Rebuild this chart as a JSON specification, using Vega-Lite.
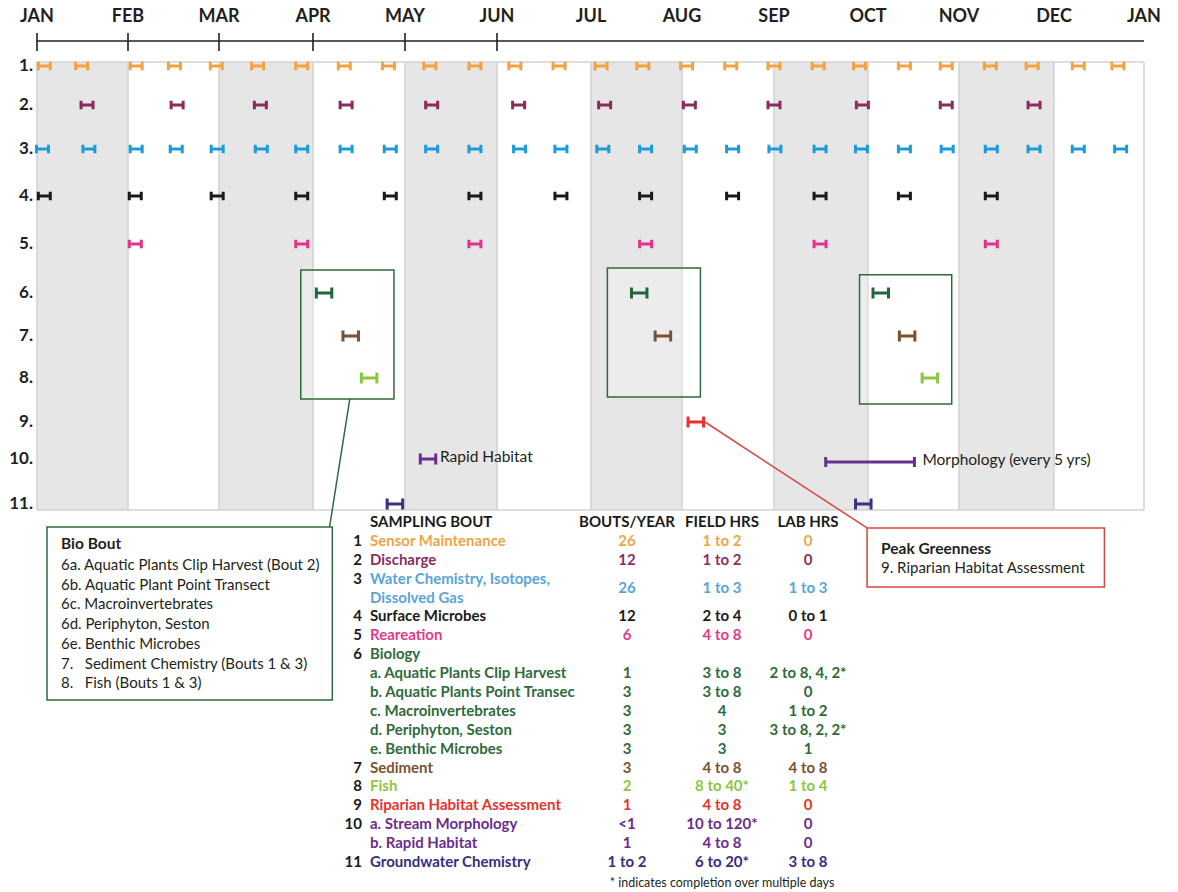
{
"$schema": "https://vega.github.io/schema/vega-lite/v6.json",
"width": 1178, "height": 892,
"autosize": {"type": "fit", "contains": "padding"},
"padding": 0,
"background": "white",
"config": {"view": {"stroke": null}},
"datasets": {
 "months": [{"m":0,"label":"JAN"},{"m":1,"label":"FEB"},{"m":2,"label":"MAR"},{"m":3,"label":"APR"},{"m":4,"label":"MAY"},{"m":5,"label":"JUN"},{"m":6,"label":"JUL"},{"m":7,"label":"AUG"},{"m":8,"label":"SEP"},{"m":9,"label":"OCT"},{"m":10,"label":"NOV"},{"m":11,"label":"DEC"},{"m":12,"label":"JAN"}],
 "bands": [{"start":0,"end":1},{"start":2,"end":3},{"start":4,"end":5},{"start":6,"end":7},{"start":8,"end":9},{"start":10,"end":11}],
 "rows": [{"row":1,"label":"1."},{"row":2,"label":"2."},{"row":3,"label":"3."},{"row":4,"label":"4."},{"row":5,"label":"5."},{"row":6,"label":"6."},{"row":7,"label":"7."},{"row":8,"label":"8."},{"row":9,"label":"9."},{"row":10,"label":"10."},{"row":11,"label":"11."}],
 "bouts": [
  {"row":1,"month":0.08},{"row":1,"month":0.49},{"row":1,"month":1.09},{"row":1,"month":1.51},{"row":1,"month":1.97},{"row":1,"month":2.41},{"row":1,"month":2.88},{"row":1,"month":3.34},{"row":1,"month":3.82},{"row":1,"month":4.27},{"row":1,"month":4.76},{"row":1,"month":5.19},{"row":1,"month":5.66},{"row":1,"month":6.11},{"row":1,"month":6.57},{"row":1,"month":7.05},{"row":1,"month":7.53},{"row":1,"month":8.0},{"row":1,"month":8.47},{"row":1,"month":8.91},{"row":1,"month":9.4},{"row":1,"month":9.86},{"row":1,"month":10.33},{"row":1,"month":10.77},{"row":1,"month":11.27},{"row":1,"month":11.71},
  {"row":2,"month":0.55},{"row":2,"month":1.54},{"row":2,"month":2.44},{"row":2,"month":3.36},{"row":2,"month":4.29},{"row":2,"month":5.23},{"row":2,"month":6.15},{"row":2,"month":7.08},{"row":2,"month":8.0},{"row":2,"month":8.94},{"row":2,"month":9.86},{"row":2,"month":10.79},
  {"row":3,"month":0.06},{"row":3,"month":0.57},{"row":3,"month":1.09},{"row":3,"month":1.53},{"row":3,"month":1.98},{"row":3,"month":2.45},{"row":3,"month":2.88},{"row":3,"month":3.36},{"row":3,"month":3.84},{"row":3,"month":4.29},{"row":3,"month":4.76},{"row":3,"month":5.24},{"row":3,"month":5.68},{"row":3,"month":6.13},{"row":3,"month":6.6},{"row":3,"month":7.09},{"row":3,"month":7.55},{"row":3,"month":8.01},{"row":3,"month":8.49},{"row":3,"month":8.93},{"row":3,"month":9.4},{"row":3,"month":9.87},{"row":3,"month":10.34},{"row":3,"month":10.79},{"row":3,"month":11.27},{"row":3,"month":11.74},
  {"row":4,"month":0.08},{"row":4,"month":1.08},{"row":4,"month":1.98},{"row":4,"month":2.88},{"row":4,"month":3.84},{"row":4,"month":4.76},{"row":4,"month":5.68},{"row":4,"month":6.6},{"row":4,"month":7.55},{"row":4,"month":8.49},{"row":4,"month":9.4},{"row":4,"month":10.34},
  {"row":5,"month":1.08},{"row":5,"month":2.88},{"row":5,"month":4.76},{"row":5,"month":6.6},{"row":5,"month":8.49},{"row":5,"month":10.34},
  {"row":6,"month":3.12},{"row":6,"month":6.53},{"row":6,"month":9.14},
  {"row":7,"month":3.41},{"row":7,"month":6.79},{"row":7,"month":9.43},
  {"row":8,"month":3.61},{"row":8,"month":9.68},
  {"row":9,"month":7.15},
  {"row":10,"month":4.25,"label":"Rapid Habitat"},
  {"row":11,"month":3.89},{"row":11,"month":8.95}
 ],
 "ranges": [{"row":10,"start":8.55,"end":9.51,"label":"Morphology (every 5 yrs)"}],
 "bioBouts": [{"bout":1,"start":2.87,"end":3.88,"top":5.53,"bottom":8.48},{"bout":2,"start":6.18,"end":7.2,"top":5.49,"bottom":8.43},{"bout":3,"start":8.91,"end":9.92,"top":5.63,"bottom":8.59}],
 "table": [
  {"line":0,"num":"","name":"SAMPLING BOUT","bouts":"BOUTS/YEAR","field":"FIELD HRS","lab":"LAB HRS","g":"h"},
  {"line":1,"num":"1","name":"Sensor Maintenance","bouts":"26","field":"1 to 2","lab":"0","g":"1"},
  {"line":2,"num":"2","name":"Discharge","bouts":"12","field":"1 to 2","lab":"0","g":"2"},
  {"line":3.5,"num":"3","name":"Water Chemistry, Isotopes,\nDissolved Gas","bouts":"26","field":"1 to 3","lab":"1 to 3","g":"3"},
  {"line":5,"num":"4","name":"Surface Microbes","bouts":"12","field":"2 to 4","lab":"0 to 1","g":"4"},
  {"line":6,"num":"5","name":"Reareation","bouts":"6","field":"4 to 8","lab":"0","g":"5"},
  {"line":7,"num":"6","name":"Biology","bouts":"","field":"","lab":"","g":"6"},
  {"line":8,"num":"","name":"a. Aquatic Plants Clip Harvest","bouts":"1","field":"3 to 8","lab":"2 to 8, 4, 2*","g":"6"},
  {"line":9,"num":"","name":"b. Aquatic Plants Point Transect","bouts":"3","field":"3 to 8","lab":"0","g":"6"},
  {"line":10,"num":"","name":"c. Macroinvertebrates","bouts":"3","field":"4","lab":"1 to 2","g":"6"},
  {"line":11,"num":"","name":"d. Periphyton, Seston","bouts":"3","field":"3","lab":"3 to 8, 2, 2*","g":"6"},
  {"line":12,"num":"","name":"e. Benthic Microbes","bouts":"3","field":"3","lab":"1","g":"6"},
  {"line":13,"num":"7","name":"Sediment","bouts":"3","field":"4 to 8","lab":"4 to 8","g":"7"},
  {"line":14,"num":"8","name":"Fish","bouts":"2","field":"8 to 40*","lab":"1 to 4","g":"8"},
  {"line":15,"num":"9","name":"Riparian Habitat Assessment","bouts":"1","field":"4 to 8","lab":"0","g":"9"},
  {"line":16,"num":"10","name":"a. Stream Morphology","bouts":"<1","field":"10 to 120*","lab":"0","g":"10"},
  {"line":17,"num":"","name":"b. Rapid Habitat","bouts":"1","field":"4 to 8","lab":"0","g":"10"},
  {"line":18,"num":"11","name":"Groundwater Chemistry","bouts":"1 to 2","field":"6 to 20*","lab":"3 to 8","g":"11"}
 ]
},
"resolve": {"scale": {"x": "independent", "y": "independent", "color": "independent"}},
"layer": [
 {
  "layer": [
   {"data": {"name": "bands"}, "mark": {"type": "rect", "fill": "#e6e6e6"},
    "encoding": {"x": {"field": "start", "type": "quantitative", "scale": {"type":"linear","domain":[0,1,2,3,4,5,6,7,8,9,10,11,12],"range":[37,128,219,313,405,497,591,682,774,868,959,1054,1144],"zero":false,"nice":false}, "axis": null}, "x2": {"field": "end"},
     "y": {"datum": 0.897, "type": "quantitative", "scale": {"type":"linear","domain":[1,2,3,4,5,6,7,8,9,10,11],"range":[66,105,149,196,244,293,336,378,422,459,504],"zero":false,"nice":false}, "axis": null}, "y2": {"datum": 11.133}}},
   {"data": {"name": "months"}, "mark": {"type": "rule", "stroke": "#d2d2d2", "strokeWidth": 1.5},
    "encoding": {"x": {"field": "m", "type": "quantitative", "scale": {"type":"linear","domain":[0,1,2,3,4,5,6,7,8,9,10,11,12],"range":[37,128,219,313,405,497,591,682,774,868,959,1054,1144],"zero":false,"nice":false}, "axis": null},
     "y": {"datum": 0.897, "type": "quantitative", "scale": {"type":"linear","domain":[1,2,3,4,5,6,7,8,9,10,11],"range":[66,105,149,196,244,293,336,378,422,459,504],"zero":false,"nice":false}, "axis": null}, "y2": {"datum": 11.133}}},
   {"data": {"values": [{"edge": "top"}]}, "mark": {"type": "rule", "stroke": "#d2d2d2", "strokeWidth": 1.5},
    "encoding": {"x": {"datum": 0, "type": "quantitative", "scale": {"type":"linear","domain":[0,1,2,3,4,5,6,7,8,9,10,11,12],"range":[37,128,219,313,405,497,591,682,774,868,959,1054,1144],"zero":false,"nice":false}, "axis": null}, "x2": {"datum": 12},
     "y": {"datum": 0.897, "type": "quantitative", "scale": {"type":"linear","domain":[1,2,3,4,5,6,7,8,9,10,11],"range":[66,105,149,196,244,293,336,378,422,459,504],"zero":false,"nice":false}, "axis": null}}},
   {"data": {"values": [{"edge": "bottom"}]}, "mark": {"type": "rule", "stroke": "#d2d2d2", "strokeWidth": 1.5},
    "encoding": {"x": {"datum": 0, "type": "quantitative", "scale": {"type":"linear","domain":[0,1,2,3,4,5,6,7,8,9,10,11,12],"range":[37,128,219,313,405,497,591,682,774,868,959,1054,1144],"zero":false,"nice":false}, "axis": null}, "x2": {"datum": 12},
     "y": {"datum": 11.133, "type": "quantitative", "scale": {"type":"linear","domain":[1,2,3,4,5,6,7,8,9,10,11],"range":[66,105,149,196,244,293,336,378,422,459,504],"zero":false,"nice":false}, "axis": null}}},
   {"data": {"values": [{"edge": "timeline"}]}, "mark": {"type": "rule", "stroke": "#231f20", "strokeWidth": 1.6},
    "encoding": {"x": {"datum": 0, "type": "quantitative", "scale": {"type":"linear","domain":[0,1,2,3,4,5,6,7,8,9,10,11,12],"range":[37,128,219,313,405,497,591,682,774,868,959,1054,1144],"zero":false,"nice":false}, "axis": null}, "x2": {"datum": 12},
     "y": {"datum": 0.359, "type": "quantitative", "scale": {"type":"linear","domain":[1,2,3,4,5,6,7,8,9,10,11],"range":[66,105,149,196,244,293,336,378,422,459,504],"zero":false,"nice":false}, "axis": null}}},
   {"data": {"name": "months"}, "transform": [{"filter": "datum.m <= 5"}], "mark": {"type": "rule", "stroke": "#231f20", "strokeWidth": 1.6},
    "encoding": {"x": {"field": "m", "type": "quantitative", "scale": {"type":"linear","domain":[0,1,2,3,4,5,6,7,8,9,10,11,12],"range":[37,128,219,313,405,497,591,682,774,868,959,1054,1144],"zero":false,"nice":false}, "axis": null},
     "y": {"datum": 0.154, "type": "quantitative", "scale": {"type":"linear","domain":[1,2,3,4,5,6,7,8,9,10,11],"range":[66,105,149,196,244,293,336,378,422,459,504],"zero":false,"nice":false}, "axis": null}, "y2": {"datum": 0.615}}},
   {"data": {"name": "months"}, "mark": {"type": "text", "font": "Lato", "fontWeight": "bold", "fontSize": 18, "color": "#231f20", "baseline": "middle", "align": "center"},
    "encoding": {"x": {"field": "m", "type": "quantitative", "scale": {"type":"linear","domain":[0,1,2,3,4,5,6,7,8,9,10,11,12],"range":[37,128,219,313,405,497,591,682,774,868,959,1054,1144],"zero":false,"nice":false}, "axis": null},
     "y": {"datum": -0.256, "type": "quantitative", "scale": {"type":"linear","domain":[1,2,3,4,5,6,7,8,9,10,11],"range":[66,105,149,196,244,293,336,378,422,459,504],"zero":false,"nice":false}, "axis": null}, "text": {"field": "label"}}},
   {"data": {"name": "rows"}, "mark": {"type": "text", "font": "Lato", "fontWeight": "bold", "fontSize": 17, "color": "#231f20", "baseline": "middle", "align": "right"},
    "encoding": {"x": {"datum": -0.044, "type": "quantitative", "scale": {"type":"linear","domain":[0,1,2,3,4,5,6,7,8,9,10,11,12],"range":[37,128,219,313,405,497,591,682,774,868,959,1054,1144],"zero":false,"nice":false}, "axis": null},
     "y": {"field": "row", "type": "quantitative", "scale": {"type":"linear","domain":[1,2,3,4,5,6,7,8,9,10,11],"range":[66,105,149,196,244,293,336,378,422,459,504],"zero":false,"nice":false}, "axis": null}, "text": {"field": "label"}}},
   {"data": {"name": "bioBouts"}, "mark": {"type": "rect", "fill": "white", "fillOpacity": 0.25, "stroke": "#2e6b3c", "strokeWidth": 1.5},
    "encoding": {"x": {"field": "start", "type": "quantitative", "scale": {"type":"linear","domain":[0,1,2,3,4,5,6,7,8,9,10,11,12],"range":[37,128,219,313,405,497,591,682,774,868,959,1054,1144],"zero":false,"nice":false}, "axis": null}, "x2": {"field": "end"},
     "y": {"field": "top", "type": "quantitative", "scale": {"type":"linear","domain":[1,2,3,4,5,6,7,8,9,10,11],"range":[66,105,149,196,244,293,336,378,422,459,504],"zero":false,"nice":false}, "axis": null}, "y2": {"field": "bottom"}}},
   {"data": {"name": "bouts"}, "transform": [{"filter": "datum.row <= 5"}],
    "mark": {"type": "point", "shape": "M-1,-0.7L-1,0.7M-1,0L1,0M1,-0.7L1,0.7", "filled": false, "strokeWidth": 3, "opacity": 1, "size": 144},
    "encoding": {"x": {"field": "month", "type": "quantitative", "scale": {"type":"linear","domain":[0,1,2,3,4,5,6,7,8,9,10,11,12],"range":[37,128,219,313,405,497,591,682,774,868,959,1054,1144],"zero":false,"nice":false}, "axis": null},
     "y": {"field": "row", "type": "quantitative", "scale": {"type":"linear","domain":[1,2,3,4,5,6,7,8,9,10,11],"range":[66,105,149,196,244,293,336,378,422,459,504],"zero":false,"nice":false}, "axis": null},
     "color": {"field": "row", "type": "nominal", "scale": {"domain": [1,2,3,4,5,6,7,8,9,10,11], "range": ["#f4a23e","#8c2b5a","#1b9bd7","#1a1a1a","#e0338a","#24643a","#7a5132","#8cc540","#e5322d","#6a2e8e","#3d2f82"]}, "legend": null}}},
   {"data": {"name": "bouts"}, "transform": [{"filter": "datum.row >= 6"}],
    "mark": {"type": "point", "shape": "M-1,-0.7L-1,0.7M-1,0L1,0M1,-0.7L1,0.7", "filled": false, "strokeWidth": 3, "opacity": 1, "size": 240},
    "encoding": {"x": {"field": "month", "type": "quantitative", "scale": {"type":"linear","domain":[0,1,2,3,4,5,6,7,8,9,10,11,12],"range":[37,128,219,313,405,497,591,682,774,868,959,1054,1144],"zero":false,"nice":false}, "axis": null},
     "y": {"field": "row", "type": "quantitative", "scale": {"type":"linear","domain":[1,2,3,4,5,6,7,8,9,10,11],"range":[66,105,149,196,244,293,336,378,422,459,504],"zero":false,"nice":false}, "axis": null},
     "color": {"field": "row", "type": "nominal", "scale": {"domain": [1,2,3,4,5,6,7,8,9,10,11], "range": ["#f4a23e","#8c2b5a","#1b9bd7","#1a1a1a","#e0338a","#24643a","#7a5132","#8cc540","#e5322d","#6a2e8e","#3d2f82"]}, "legend": null}}},
   {"data": {"name": "bouts"}, "transform": [{"filter": "datum.label != null"}],
    "mark": {"type": "text", "font": "Lato", "fontSize": 15.5, "color": "#231f20", "align": "left", "baseline": "middle", "dx": 12, "dy": -2},
    "encoding": {"x": {"field": "month", "type": "quantitative", "scale": {"type":"linear","domain":[0,1,2,3,4,5,6,7,8,9,10,11,12],"range":[37,128,219,313,405,497,591,682,774,868,959,1054,1144],"zero":false,"nice":false}, "axis": null},
     "y": {"field": "row", "type": "quantitative", "scale": {"type":"linear","domain":[1,2,3,4,5,6,7,8,9,10,11],"range":[66,105,149,196,244,293,336,378,422,459,504],"zero":false,"nice":false}, "axis": null}, "text": {"field": "label"}}},
   {"data": {"name": "ranges"}, "mark": {"type": "rule", "stroke": "#6a2e8e", "strokeWidth": 3, "yOffset": 3},
    "encoding": {"x": {"field": "start", "type": "quantitative", "scale": {"type":"linear","domain":[0,1,2,3,4,5,6,7,8,9,10,11,12],"range":[37,128,219,313,405,497,591,682,774,868,959,1054,1144],"zero":false,"nice":false}, "axis": null}, "x2": {"field": "end"},
     "y": {"field": "row", "type": "quantitative", "scale": {"type":"linear","domain":[1,2,3,4,5,6,7,8,9,10,11],"range":[66,105,149,196,244,293,336,378,422,459,504],"zero":false,"nice":false}, "axis": null}}},
   {"data": {"name": "ranges"}, "mark": {"type": "point", "shape": "M0,-1L0,1", "filled": false, "stroke": "#6a2e8e", "strokeWidth": 3, "opacity": 1, "size": 100, "yOffset": 3},
    "encoding": {"x": {"field": "start", "type": "quantitative", "scale": {"type":"linear","domain":[0,1,2,3,4,5,6,7,8,9,10,11,12],"range":[37,128,219,313,405,497,591,682,774,868,959,1054,1144],"zero":false,"nice":false}, "axis": null},
     "y": {"field": "row", "type": "quantitative", "scale": {"type":"linear","domain":[1,2,3,4,5,6,7,8,9,10,11],"range":[66,105,149,196,244,293,336,378,422,459,504],"zero":false,"nice":false}, "axis": null}}},
   {"data": {"name": "ranges"}, "mark": {"type": "point", "shape": "M0,-1L0,1", "filled": false, "stroke": "#6a2e8e", "strokeWidth": 3, "opacity": 1, "size": 100, "yOffset": 3},
    "encoding": {"x": {"field": "end", "type": "quantitative", "scale": {"type":"linear","domain":[0,1,2,3,4,5,6,7,8,9,10,11,12],"range":[37,128,219,313,405,497,591,682,774,868,959,1054,1144],"zero":false,"nice":false}, "axis": null},
     "y": {"field": "row", "type": "quantitative", "scale": {"type":"linear","domain":[1,2,3,4,5,6,7,8,9,10,11],"range":[66,105,149,196,244,293,336,378,422,459,504],"zero":false,"nice":false}, "axis": null}}},
   {"data": {"name": "ranges"}, "mark": {"type": "text", "font": "Lato", "fontSize": 15.5, "color": "#231f20", "align": "left", "baseline": "middle", "dx": 8, "dy": 1},
    "encoding": {"x": {"field": "end", "type": "quantitative", "scale": {"type":"linear","domain":[0,1,2,3,4,5,6,7,8,9,10,11,12],"range":[37,128,219,313,405,497,591,682,774,868,959,1054,1144],"zero":false,"nice":false}, "axis": null},
     "y": {"field": "row", "type": "quantitative", "scale": {"type":"linear","domain":[1,2,3,4,5,6,7,8,9,10,11],"range":[66,105,149,196,244,293,336,378,422,459,504],"zero":false,"nice":false}, "axis": null}, "text": {"field": "label"}}},
   {"data": {"values": [{"link": "bio"}]}, "mark": {"type": "rule", "stroke": "#2e6b3c", "strokeWidth": 1.5},
    "encoding": {"x": {"datum": 3.18, "type": "quantitative", "scale": {"type":"linear","domain":[0,1,2,3,4,5,6,7,8,9,10,11,12],"range":[37,128,219,313,405,497,591,682,774,868,959,1054,1144],"zero":false,"nice":false}, "axis": null}, "x2": {"datum": 3.4},
     "y": {"datum": 11.511, "type": "quantitative", "scale": {"type":"linear","domain":[1,2,3,4,5,6,7,8,9,10,11],"range":[66,105,149,196,244,293,336,378,422,459,504],"zero":false,"nice":false}, "axis": null}, "y2": {"datum": 8.477}}},
   {"data": {"values": [{"link": "peak"}]}, "mark": {"type": "rule", "stroke": "#d9463f", "strokeWidth": 1.5},
    "encoding": {"x": {"datum": 7.25, "type": "quantitative", "scale": {"type":"linear","domain":[0,1,2,3,4,5,6,7,8,9,10,11,12],"range":[37,128,219,313,405,497,591,682,774,868,959,1054,1144],"zero":false,"nice":false}, "axis": null}, "x2": {"datum": 8.99},
     "y": {"datum": 9.0, "type": "quantitative", "scale": {"type":"linear","domain":[1,2,3,4,5,6,7,8,9,10,11],"range":[66,105,149,196,244,293,336,378,422,459,504],"zero":false,"nice":false}, "axis": null}, "y2": {"datum": 11.533}}},
   {"data": {"values": [{"box": "bio"}]}, "mark": {"type": "rect", "fill": "white", "stroke": "#2e6b3c", "strokeWidth": 1.5},
    "encoding": {"x": {"datum": 0.11, "type": "quantitative", "scale": {"type":"linear","domain":[0,1,2,3,4,5,6,7,8,9,10,11,12],"range":[37,128,219,313,405,497,591,682,774,868,959,1054,1144],"zero":false,"nice":false}, "axis": null}, "x2": {"datum": 3.21},
     "y": {"datum": 11.511, "type": "quantitative", "scale": {"type":"linear","domain":[1,2,3,4,5,6,7,8,9,10,11],"range":[66,105,149,196,244,293,336,378,422,459,504],"zero":false,"nice":false}, "axis": null}, "y2": {"datum": 15.356}}},
   {"data": {"values": [{"box": "peak"}]}, "mark": {"type": "rect", "fill": "white", "stroke": "#d9463f", "strokeWidth": 1.5},
    "encoding": {"x": {"datum": 8.99, "type": "quantitative", "scale": {"type":"linear","domain":[0,1,2,3,4,5,6,7,8,9,10,11,12],"range":[37,128,219,313,405,497,591,682,774,868,959,1054,1144],"zero":false,"nice":false}, "axis": null}, "x2": {"datum": 11.56},
     "y": {"datum": 11.533, "type": "quantitative", "scale": {"type":"linear","domain":[1,2,3,4,5,6,7,8,9,10,11],"range":[66,105,149,196,244,293,336,378,422,459,504],"zero":false,"nice":false}, "axis": null}, "y2": {"datum": 12.844}}},
   {"data": {"values": [{"t": "Bio Bout"}]}, "mark": {"type": "text", "font": "Lato", "fontSize": 15.5, "fontWeight": "bold", "color": "#231f20", "align": "left", "baseline": "middle"},
    "encoding": {"x": {"datum": 0.264, "type": "quantitative", "scale": {"type":"linear","domain":[0,1,2,3,4,5,6,7,8,9,10,11,12],"range":[37,128,219,313,405,497,591,682,774,868,959,1054,1144],"zero":false,"nice":false}, "axis": null},
     "y": {"datum": 11.889, "type": "quantitative", "scale": {"type":"linear","domain":[1,2,3,4,5,6,7,8,9,10,11],"range":[66,105,149,196,244,293,336,378,422,459,504],"zero":false,"nice":false}, "axis": null}, "text": {"field": "t"}}},
   {"data": {"values": [{"t": "6a. Aquatic Plants Clip Harvest (Bout 2)\n6b. Aquatic Plant Point Transect\n6c. Macroinvertebrates\n6d. Periphyton, Seston\n6e. Benthic Microbes\n7.\u00a0\u00a0 Sediment Chemistry (Bouts 1 & 3)\n8.\u00a0\u00a0 Fish (Bouts 1 & 3)"}]},
    "mark": {"type": "text", "font": "Lato", "fontSize": 15, "color": "#231f20", "align": "left", "baseline": "middle", "lineBreak": "\n", "lineHeight": 19.7},
    "encoding": {"x": {"datum": 0.264, "type": "quantitative", "scale": {"type":"linear","domain":[0,1,2,3,4,5,6,7,8,9,10,11,12],"range":[37,128,219,313,405,497,591,682,774,868,959,1054,1144],"zero":false,"nice":false}, "axis": null},
     "y": {"datum": 12.356, "type": "quantitative", "scale": {"type":"linear","domain":[1,2,3,4,5,6,7,8,9,10,11],"range":[66,105,149,196,244,293,336,378,422,459,504],"zero":false,"nice":false}, "axis": null}, "text": {"field": "t"}}},
   {"data": {"values": [{"t": "Peak Greenness"}]}, "mark": {"type": "text", "font": "Lato", "fontSize": 15.5, "fontWeight": "bold", "color": "#231f20", "align": "left", "baseline": "middle"},
    "encoding": {"x": {"datum": 9.143, "type": "quantitative", "scale": {"type":"linear","domain":[0,1,2,3,4,5,6,7,8,9,10,11,12],"range":[37,128,219,313,405,497,591,682,774,868,959,1054,1144],"zero":false,"nice":false}, "axis": null},
     "y": {"datum": 12.0, "type": "quantitative", "scale": {"type":"linear","domain":[1,2,3,4,5,6,7,8,9,10,11],"range":[66,105,149,196,244,293,336,378,422,459,504],"zero":false,"nice":false}, "axis": null}, "text": {"field": "t"}}},
   {"data": {"values": [{"t": "9. Riparian Habitat Assessment"}]}, "mark": {"type": "text", "font": "Lato", "fontSize": 15, "color": "#231f20", "align": "left", "baseline": "middle"},
    "encoding": {"x": {"datum": 9.143, "type": "quantitative", "scale": {"type":"linear","domain":[0,1,2,3,4,5,6,7,8,9,10,11,12],"range":[37,128,219,313,405,497,591,682,774,868,959,1054,1144],"zero":false,"nice":false}, "axis": null},
     "y": {"datum": 12.422, "type": "quantitative", "scale": {"type":"linear","domain":[1,2,3,4,5,6,7,8,9,10,11],"range":[66,105,149,196,244,293,336,378,422,459,504],"zero":false,"nice":false}, "axis": null}, "text": {"field": "t"}}}
  ]
 },
 {
  "data": {"name": "table"},
  "layer": [
   {"transform": [{"filter": "indexof(datum.name, '\\n') < 0"}],
    "mark": {"type": "text", "font": "Lato", "fontWeight": "bold", "fontSize": 15, "color": "#1a1a1a", "align": "right", "baseline": "middle"},
    "encoding": {"x": {"datum": 0, "type": "quantitative", "scale": {"type":"linear","domain":[0,1,2,3,4],"range":[362,370,627,722,808],"zero":false,"nice":false}, "axis": null},
     "y": {"field": "line", "type": "quantitative", "scale": {"type":"linear","domain":[0,18],"range":[522,862],"zero":false,"nice":false}, "axis": null}, "text": {"field": "num"}}},
   {"transform": [{"filter": "indexof(datum.name, '\\n') >= 0"}],
    "mark": {"type": "text", "font": "Lato", "fontWeight": "bold", "fontSize": 15, "color": "#1a1a1a", "align": "right", "baseline": "middle", "dy": -9.5},
    "encoding": {"x": {"datum": 0, "type": "quantitative", "scale": {"type":"linear","domain":[0,1,2,3,4],"range":[362,370,627,722,808],"zero":false,"nice":false}, "axis": null},
     "y": {"field": "line", "type": "quantitative", "scale": {"type":"linear","domain":[0,18],"range":[522,862],"zero":false,"nice":false}, "axis": null}, "text": {"field": "num"}}},
   {"transform": [{"filter": "indexof(datum.name, '\\n') < 0"}],
    "mark": {"type": "text", "font": "Lato", "fontWeight": "bold", "fontSize": 15, "align": "left", "baseline": "middle", "limit": 207, "ellipsis": "\u200b"},
    "encoding": {"x": {"datum": 1, "type": "quantitative", "scale": {"type":"linear","domain":[0,1,2,3,4],"range":[362,370,627,722,808],"zero":false,"nice":false}, "axis": null},
     "y": {"field": "line", "type": "quantitative", "scale": {"type":"linear","domain":[0,18],"range":[522,862],"zero":false,"nice":false}, "axis": null}, "text": {"field": "name"},
     "color": {"field": "g", "type": "nominal", "scale": {"domain": ["h","1","2","3","4","5","6","7","8","9","10","11"], "range": ["#1a1a1a","#f0a545","#8b2f5c","#5aa5d8","#1a1a1a","#e23a88","#2f6b3b","#7b5232","#8dc63f","#e3342c","#6a2d8f","#3a2c7e"]}, "legend": null}}},
   {"transform": [{"filter": "indexof(datum.name, '\\n') >= 0"}],
    "mark": {"type": "text", "font": "Lato", "fontWeight": "bold", "fontSize": 15, "align": "left", "baseline": "middle", "lineBreak": "\n", "lineHeight": 19, "dy": -9.5},
    "encoding": {"x": {"datum": 1, "type": "quantitative", "scale": {"type":"linear","domain":[0,1,2,3,4],"range":[362,370,627,722,808],"zero":false,"nice":false}, "axis": null},
     "y": {"field": "line", "type": "quantitative", "scale": {"type":"linear","domain":[0,18],"range":[522,862],"zero":false,"nice":false}, "axis": null}, "text": {"field": "name"},
     "color": {"field": "g", "type": "nominal", "scale": {"domain": ["h","1","2","3","4","5","6","7","8","9","10","11"], "range": ["#1a1a1a","#f0a545","#8b2f5c","#5aa5d8","#1a1a1a","#e23a88","#2f6b3b","#7b5232","#8dc63f","#e3342c","#6a2d8f","#3a2c7e"]}, "legend": null}}},
   {"mark": {"type": "text", "font": "Lato", "fontWeight": "bold", "fontSize": 15, "align": "center", "baseline": "middle"},
    "encoding": {"x": {"datum": 2, "type": "quantitative", "scale": {"type":"linear","domain":[0,1,2,3,4],"range":[362,370,627,722,808],"zero":false,"nice":false}, "axis": null},
     "y": {"field": "line", "type": "quantitative", "scale": {"type":"linear","domain":[0,18],"range":[522,862],"zero":false,"nice":false}, "axis": null}, "text": {"field": "bouts"},
     "color": {"field": "g", "type": "nominal", "scale": {"domain": ["h","1","2","3","4","5","6","7","8","9","10","11"], "range": ["#1a1a1a","#f0a545","#8b2f5c","#5aa5d8","#1a1a1a","#e23a88","#2f6b3b","#7b5232","#8dc63f","#e3342c","#6a2d8f","#3a2c7e"]}, "legend": null}}},
   {"mark": {"type": "text", "font": "Lato", "fontWeight": "bold", "fontSize": 15, "align": "center", "baseline": "middle"},
    "encoding": {"x": {"datum": 3, "type": "quantitative", "scale": {"type":"linear","domain":[0,1,2,3,4],"range":[362,370,627,722,808],"zero":false,"nice":false}, "axis": null},
     "y": {"field": "line", "type": "quantitative", "scale": {"type":"linear","domain":[0,18],"range":[522,862],"zero":false,"nice":false}, "axis": null}, "text": {"field": "field"},
     "color": {"field": "g", "type": "nominal", "scale": {"domain": ["h","1","2","3","4","5","6","7","8","9","10","11"], "range": ["#1a1a1a","#f0a545","#8b2f5c","#5aa5d8","#1a1a1a","#e23a88","#2f6b3b","#7b5232","#8dc63f","#e3342c","#6a2d8f","#3a2c7e"]}, "legend": null}}},
   {"mark": {"type": "text", "font": "Lato", "fontWeight": "bold", "fontSize": 15, "align": "center", "baseline": "middle"},
    "encoding": {"x": {"datum": 4, "type": "quantitative", "scale": {"type":"linear","domain":[0,1,2,3,4],"range":[362,370,627,722,808],"zero":false,"nice":false}, "axis": null},
     "y": {"field": "line", "type": "quantitative", "scale": {"type":"linear","domain":[0,18],"range":[522,862],"zero":false,"nice":false}, "axis": null}, "text": {"field": "lab"},
     "color": {"field": "g", "type": "nominal", "scale": {"domain": ["h","1","2","3","4","5","6","7","8","9","10","11"], "range": ["#1a1a1a","#f0a545","#8b2f5c","#5aa5d8","#1a1a1a","#e23a88","#2f6b3b","#7b5232","#8dc63f","#e3342c","#6a2d8f","#3a2c7e"]}, "legend": null}}},
   {"data": {"values": [{"note": "* indicates completion over multiple days"}]},
    "mark": {"type": "text", "font": "Lato", "fontSize": 12.5, "color": "#231f20", "align": "center", "baseline": "middle"},
    "encoding": {"x": {"datum": 3, "type": "quantitative", "scale": {"type":"linear","domain":[0,1,2,3,4],"range":[362,370,627,722,808],"zero":false,"nice":false}, "axis": null},
     "y": {"datum": 19.1, "type": "quantitative", "scale": {"type":"linear","domain":[0,18],"range":[522,862],"zero":false,"nice":false}, "axis": null}, "text": {"field": "note"}}}
  ]
 }
]
}
